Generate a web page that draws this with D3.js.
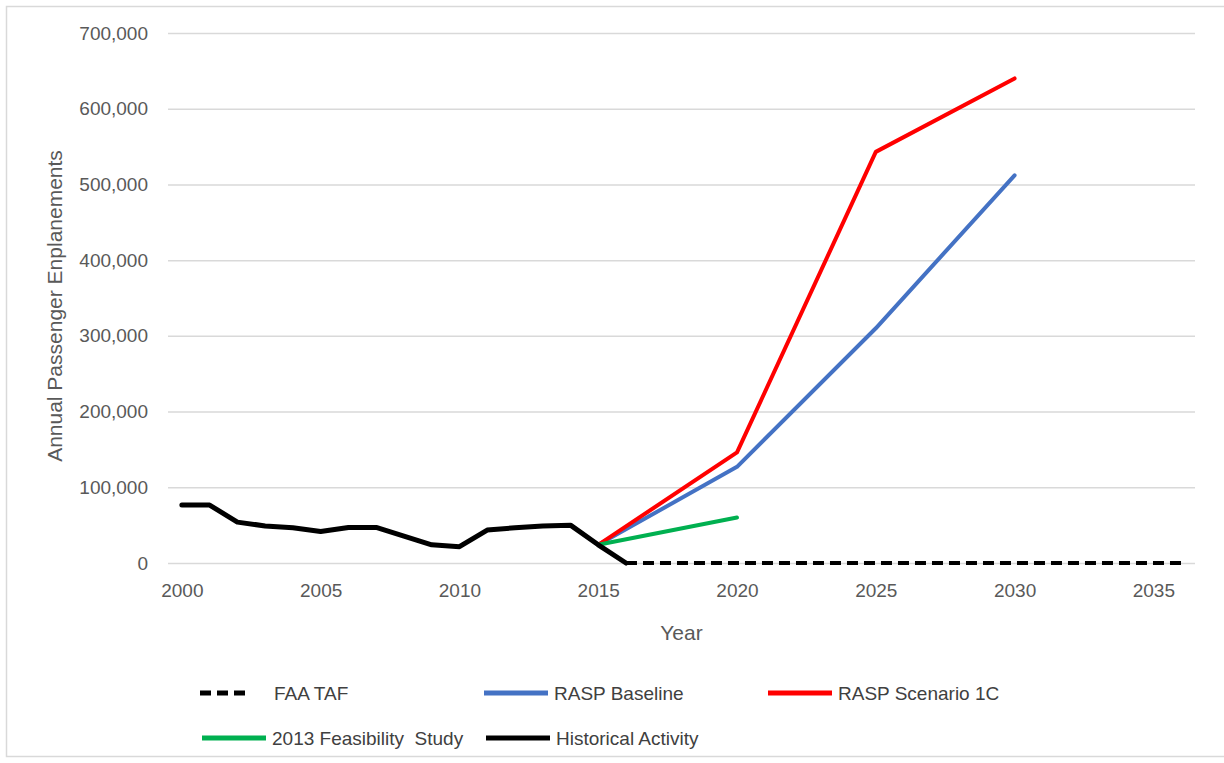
<!DOCTYPE html>
<html>
<head>
<meta charset="utf-8">
<script src="https://cdn.jsdelivr.net/npm/d3@7"></script>
<style>
  body { margin: 0; background: #fff; }
  svg { display: block; font-family: "Liberation Sans", Arial, sans-serif; }
</style>
</head>
<body>
<svg id="chart" width="1224" height="763"></svg>
<script>
// data //
const historyYears = [2000, 2001, 2002, 2003, 2004, 2005, 2006, 2007, 2008, 2009, 2010, 2011, 2012, 2013, 2014, 2015, 2016];
const historyValues = [76500, 76500, 54000, 49000, 46500, 41500, 47000, 47000, 35500, 24000, 21500, 43500, 46500, 49000, 50000, 24000, 0];

const tafYears = [2016, 2017, 2018, 2019, 2020, 2021, 2022, 2023, 2024, 2025, 2026, 2027, 2028, 2029, 2030, 2031, 2032, 2033, 2034, 2035, 2036];
const tafValues = [0, 0, 0, 0, 0, 0, 0, 0, 0, 0, 0, 0, 0, 0, 0, 0, 0, 0, 0, 0, 0];

const forecastYears = [2015, 2020, 2025, 2030];
const baselineValues = [24000, 127000, 310000, 512000];
const scenarioValues = [24000, 146000, 543000, 640000];

const studyYears = [2015, 2020];
const studyValues = [24000, 60000];

const yTicks = [0, 100000, 200000, 300000, 400000, 500000, 600000, 700000];
const xTicks = [2000, 2005, 2010, 2015, 2020, 2025, 2030, 2035];

const svg = d3.select('#chart');

// outer frame //
svg.append('rect')
  .attr('x', 6.5).attr('y', 6.5)
  .attr('width', 1240).attr('height', 750)
  .attr('fill', 'none')
  .attr('stroke', '#d9d9d9')
  .attr('stroke-width', 1.5);

const plotLeft = 168, plotRight = 1195, plotTop = 33, plotBottom = 563;

const xScale = d3.scaleLinear()
  .domain([1999.5, 2036.5])
  .range([plotLeft, plotRight]);

const yScale = d3.scaleLinear()
  .domain([0, 700000])
  .range([plotBottom, plotTop]);

// y axis with gridlines //
const yAxis = d3.axisLeft(yScale)
  .tickValues(yTicks)
  .tickFormat(d3.format(','))
  .tickSize(-(plotRight - plotLeft))
  .tickPadding(20);

const gy = svg.append('g')
  .attr('transform', `translate(${plotLeft}, 0)`)
  .call(yAxis);
gy.select('.domain').remove();
gy.selectAll('line').attr('stroke', '#d9d9d9').attr('stroke-width', 1.5);
gy.selectAll('text')
  .attr('fill', '#595959')
  .style('font-size', '19px')
  .style('font-family', '"Liberation Sans", Arial, sans-serif');

// x axis //
const xAxis = d3.axisBottom(xScale)
  .tickValues(xTicks)
  .tickFormat(d3.format('d'))
  .tickSize(0)
  .tickPadding(21);

const gx = svg.append('g')
  .attr('transform', `translate(0, ${plotBottom})`)
  .call(xAxis);
gx.select('.domain').remove();
gx.selectAll('text')
  .attr('fill', '#595959')
  .style('font-size', '19px')
  .style('font-family', '"Liberation Sans", Arial, sans-serif');

// axis titles //
svg.append('text')
  .attr('x', xScale(2018))
  .attr('y', 640)
  .attr('text-anchor', 'middle')
  .attr('fill', '#595959')
  .style('font-size', '21px')
  .text('Year');

svg.append('text')
  .attr('transform', `translate(62, 306) rotate(-90)`)
  .attr('text-anchor', 'middle')
  .attr('fill', '#595959')
  .style('font-size', '21px')
  .text('Annual Passenger Enplanements');

// lines //
const line = d3.line()
  .x((d) => xScale(d[0]))
  .y((d) => yScale(d[1]));

const series = [
  { name: 'FAA TAF', years: tafYears, values: tafValues, color: '#000000', width: 4, dash: '11,6' },
  { name: 'RASP Baseline', years: forecastYears, values: baselineValues, color: '#4472c4', width: 4, dash: null },
  { name: 'RASP Scenario 1C', years: forecastYears, values: scenarioValues, color: '#ff0000', width: 4, dash: null },
  { name: '2013 Feasibility  Study', years: studyYears, values: studyValues, color: '#00b050', width: 4, dash: null },
  { name: 'Historical Activity', years: historyYears, values: historyValues, color: '#000000', width: 5, dash: null },
];

svg.append('g')
  .selectAll('path')
  .data(series)
  .join('path')
  .attr('d', (s) => line(s.years.map((y, i) => [y, s.values[i]])))
  .attr('fill', 'none')
  .attr('stroke', (s) => s.color)
  .attr('stroke-width', (s) => s.width)
  .attr('stroke-dasharray', (s) => s.dash)
  .attr('stroke-linejoin', 'round')
  .attr('stroke-linecap', (s) => s.dash ? 'butt' : 'round');

// legend //
const legendPos = [
  { x: 200, y: 693 },
  { x: 484, y: 693 },
  { x: 768, y: 693 },
  { x: 202, y: 738 },
  { x: 486, y: 738 },
];

const legend = svg.append('g')
  .selectAll('g')
  .data(series)
  .join('g')
  .attr('transform', (s, i) => `translate(${legendPos[i].x}, ${legendPos[i].y})`);

legend.append('line')
  .attr('x1', 0).attr('x2', (s) => s.dash ? 46 : 64)
  .attr('y1', 0).attr('y2', 0)
  .attr('stroke', (s) => s.color)
  .attr('stroke-width', 5)
  .attr('stroke-dasharray', (s) => s.dash ? '11,6' : null);

legend.append('text')
  .attr('x', (s) => s.dash ? 74 : 70)
  .attr('y', 7)
  .attr('fill', '#404040')
  .style('font-size', '19px')
  .style('white-space', 'pre')
  .text((s) => s.name);
</script>
</body>
</html>
